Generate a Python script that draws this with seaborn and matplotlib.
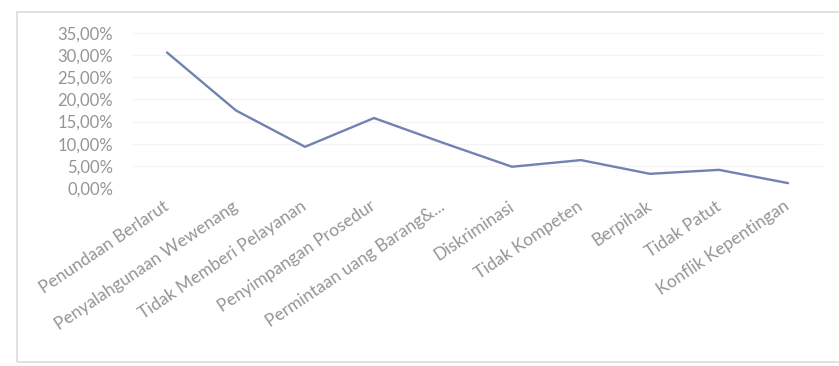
import matplotlib
matplotlib.use("Agg")

import pandas as pd

import matplotlib.pyplot as plt
import seaborn as sns
from matplotlib.ticker import FuncFormatter


CATEGORIES = [
    "Penundaan Berlarut",
    "Penyalahgunaan Wewenang",
    "Tidak Memberi Pelayanan",
    "Penyimpangan Prosedur",
    "Permintaan uang Barang&...",
    "Diskriminasi",
    "Tidak Kompeten",
    "Berpihak",
    "Tidak Patut",
    "Konflik Kepentingan",
]
PERCENT = [30.6, 17.5, 9.3, 15.8, 10.2, 4.8, 6.3, 3.2, 4.1, 1.1]
Y_TICKS = [0, 5, 10, 15, 20, 25, 30, 35]


def main():
    df = pd.DataFrame({"kategori": CATEGORIES, "persen": PERCENT})

    sns.set_style("white")
    plt.rcParams["font.family"] = ["Lato", "DejaVu Sans"]

    fig = plt.figure(figsize=(8.39, 3.66), dpi=100)
    ax = fig.add_axes([132.5 / 839, 178 / 366, 690 / 839, 155 / 366])

    sns.lineplot(data=df, x="kategori", y="persen", sort=False, ax=ax,
                 color="#7182b2", linewidth=1.7)

    ax.set_xlim(-0.5, len(CATEGORIES) - 0.5)
    ax.set_ylim(0, 35)
    ax.set_yticks(Y_TICKS)
    ax.yaxis.set_major_formatter(FuncFormatter(lambda v, _: f"{v:.2f}%".replace(".", ",")))
    ax.set_xlabel("")
    ax.set_ylabel("")

    for s in ax.spines.values():
        s.set_visible(False)
    ax.grid(axis="y", color="#f3f3f3", linewidth=0.8)
    ax.set_axisbelow(True)

    ax.tick_params(axis="y", length=0, pad=14, labelsize=12, labelcolor="#959595")
    ax.tick_params(axis="x", length=0, pad=12, labelsize=12.5, labelcolor="#959595")
    plt.setp(ax.get_xticklabels(), rotation=34, ha="right", va="center",
             rotation_mode="anchor")

    # chart frame like the Excel chart area
    fig.add_artist(plt.Rectangle((17 / 839, 4 / 366), 830 / 839, 350 / 366,
                                 transform=fig.transFigure, fill=False,
                                 edgecolor="#dcdcdc", linewidth=1.2))

    fig.savefig("out.png", dpi=100)


if __name__ == '__main__':
    main()
